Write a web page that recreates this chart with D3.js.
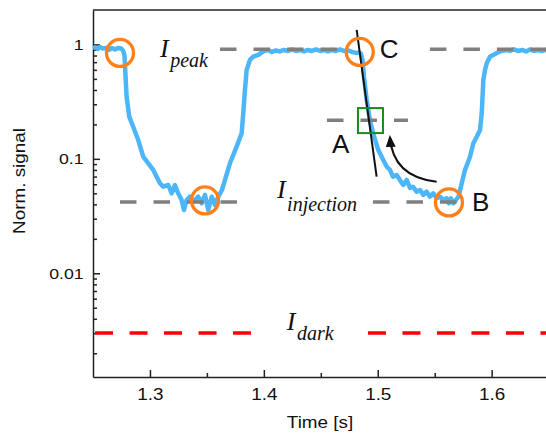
<!DOCTYPE html>
<html>
<head>
<meta charset="utf-8">
<script src="https://cdn.jsdelivr.net/npm/d3@7"></script>
<style>
  body { margin: 0; background: #fff; }
  svg { display: block; }
</style>
</head>
<body>
<div id="chart"></div>
<script>
// measured trace (time in s, normalised signal)
const times = [1.2500, 1.2517, 1.2543, 1.2561, 1.2587, 1.2614, 1.2640, 1.2666, 1.2693, 1.2719, 1.2746, 1.2763,
  1.2776, 1.2795, 1.2818, 1.2853, 1.2897, 1.2941, 1.2985, 1.3029, 1.3059, 1.3088, 1.3117, 1.3161, 1.3191, 1.3219,
  1.3248, 1.3278, 1.3299, 1.3322, 1.3351, 1.3380, 1.3424, 1.3454, 1.3483, 1.3512, 1.3542, 1.3571, 1.3600, 1.3632,
  1.3659, 1.3702, 1.3761, 1.3805, 1.3819, 1.3834, 1.3849, 1.3878, 1.3907, 1.3951, 1.3995, 1.4036, 1.4071, 1.4106,
  1.4141, 1.4176, 1.4212, 1.4247, 1.4282, 1.4317, 1.4352, 1.4387, 1.4422, 1.4457, 1.4493, 1.4528, 1.4563, 1.4598,
  1.4633, 1.4668, 1.4703, 1.4738, 1.4774, 1.4809, 1.4835, 1.4853, 1.4866, 1.4879, 1.4903, 1.4917, 1.4932, 1.4961,
  1.5004, 1.5048, 1.5081, 1.5107, 1.5133, 1.5166, 1.5195, 1.5224, 1.5254, 1.5283, 1.5309, 1.5341, 1.5371, 1.5400,
  1.5429, 1.5458, 1.5487, 1.5517, 1.5546, 1.5575, 1.5604, 1.5625, 1.5642, 1.5663, 1.5687, 1.5709, 1.5744, 1.5766,
  1.5810, 1.5839, 1.5869, 1.5898, 1.5913, 1.5927, 1.5942, 1.5957, 1.5985, 1.6029, 1.6073, 1.6132, 1.6161, 1.6196,
  1.6231, 1.6267, 1.6302, 1.6336, 1.6371, 1.6406, 1.6441, 1.6477, 1.6503];
const signal = [0.932, 0.942, 0.913, 0.951, 0.923, 0.932, 0.895, 0.932, 0.904, 0.932, 0.923, 0.886,
  0.810, 0.350, 0.234, 0.191, 0.146, 0.1045, 0.0915, 0.0800, 0.0699, 0.0612, 0.0571, 0.0591, 0.0500, 0.0591,
  0.0500, 0.0437, 0.0357, 0.0437, 0.0467, 0.0422, 0.0467, 0.0409, 0.0484, 0.0357, 0.0467, 0.0395, 0.0467, 0.0534,
  0.0654, 0.0915, 0.128, 0.167, 0.250, 0.400, 0.599, 0.732, 0.782, 0.810, 0.869, 0.895, 0.860, 0.886,
  0.869, 0.895, 0.877, 0.904, 0.877, 0.895, 0.869, 0.895, 0.877, 0.904, 0.877, 0.895, 0.869, 0.895,
  0.877, 0.904, 0.877, 0.886, 0.860, 0.843, 0.851, 0.826, 0.732, 0.523, 0.327, 0.268, 0.2145, 0.165,
  0.120, 0.0978, 0.0849, 0.0800, 0.0699, 0.0723, 0.0654, 0.0591, 0.0654, 0.0557, 0.0571, 0.0517, 0.0534, 0.0484,
  0.0517, 0.0467, 0.0500, 0.0452, 0.0467, 0.0437, 0.0452, 0.0409, 0.0452, 0.0409, 0.0437, 0.0467, 0.0654, 0.0800,
  0.1045, 0.137, 0.156, 0.179, 0.250, 0.489, 0.599, 0.685, 0.782, 0.826, 0.869, 0.895, 0.877, 0.904,
  0.877, 0.895, 0.869, 0.904, 0.877, 0.895, 0.877, 0.895, 0.886];

// reference levels: [from, to, value]
const greyLevels = [[1.3615, 1.4712, 0.91], [1.5458, 1.65, 0.91],
  [1.2737, 1.3791, 0.042], [1.4958, 1.5695, 0.042], [1.4554, 1.5265, 0.218]];
const darkLevels = [[1.2518, 1.3887, 0.003], [1.4914, 1.65, 0.003]];

// annotations
const circles = [[1.2737, 0.843], [1.3483, 0.0433], [1.4842, 0.860], [1.5625, 0.0416]];
const pointA = [1.4936, 0.216];
const tangent = [[1.4815, 1.339], [1.4990, 0.0699]];
const arrow = [[1.5517, 0.0632], [1.5133, 0.0695], [1.5107, 0.155]];
const letters = [["A", 1.4598, 0.1126], ["C", 1.5018, 0.762], ["B", 1.5828, 0.0347]];
const intensities = [["peak", 1.3088, 0.777, 10], ["injection", 1.4115, 0.0452, 13], ["dark", 1.4201, 0.00319, 10]];

const xMajor = [1.3, 1.4, 1.5, 1.6];
const xMinor = [1.35, 1.45, 1.55];
const yMajor = [0.01, 0.1, 1];
const yMinor = [0.002, 0.003, 0.004, 0.005, 0.006, 0.007, 0.008, 0.009,
  0.02, 0.03, 0.04, 0.05, 0.06, 0.07, 0.08, 0.09,
  0.2, 0.3, 0.4, 0.5, 0.6, 0.7, 0.8, 0.9];

const width = 546;
const height = 435;
const marginTop = 10;
const marginLeft = 93;
const plotBottom = 377;
const plotRight = 548.6;
const sans = "Liberation Sans, Arial, sans-serif";
const serif = "Liberation Serif, Times New Roman, serif";

const svg = d3.select("#chart")
  .append("svg")
  .attr("width", width)
  .attr("height", height)
  .attr("viewBox", [0, 0, width, height]);

const x = d3.scaleLinear([1.25, 1.65], [marginLeft, plotRight]);
const y = d3.scaleLog([0.00124, 2], [plotBottom, marginTop]);

const defs = svg.append("defs");
defs.append("marker")
  .attr("id", "head")
  .attr("viewBox", "0 0 12 10")
  .attr("refX", 10)
  .attr("refY", 5)
  .attr("markerWidth", 12)
  .attr("markerHeight", 10)
  .attr("markerUnits", "userSpaceOnUse")
  .attr("orient", "auto")
  .append("path")
  .attr("d", "M0,0L12,5L0,10Z")
  .attr("fill", "#111");

// axes
const axisColor = "#222";
svg.append("g")
  .attr("transform", `translate(0,${plotBottom})`)
  .call(d3.axisBottom(x).tickValues(xMajor).tickFormat(d3.format(".1f")).tickSize(-7).tickSizeOuter(0))
  .call(g => g.select(".domain").attr("stroke", axisColor).attr("stroke-width", 1.5))
  .call(g => g.selectAll(".tick line").attr("stroke", axisColor).attr("stroke-width", 1.5))
  .call(g => g.selectAll(".tick text")
    .attr("y", 23).attr("dy", 0)
    .attr("transform", "scale(1.18,1)")
    .attr("font-family", sans).attr("font-size", 16).attr("fill", "#111"));

svg.append("g")
  .attr("transform", `translate(0,${plotBottom})`)
  .call(d3.axisBottom(x).tickValues(xMinor).tickFormat("").tickSize(-4).tickSizeOuter(0))
  .call(g => g.select(".domain").remove())
  .call(g => g.selectAll(".tick line").attr("stroke", axisColor).attr("stroke-width", 1.5));

svg.append("g")
  .attr("transform", `translate(${marginLeft},0)`)
  .call(d3.axisLeft(y).tickValues(yMajor).tickFormat(d => String(d)).tickSize(-7).tickSizeOuter(0).tickPadding(8))
  .call(g => g.select(".domain").attr("stroke", axisColor).attr("stroke-width", 1.5))
  .call(g => g.selectAll(".tick line").attr("stroke", axisColor).attr("stroke-width", 1.5))
  .call(g => g.selectAll(".tick text")
    .attr("transform", "scale(1.18,1)")
    .attr("font-family", sans).attr("font-size", 15).attr("fill", "#111"));

svg.append("g")
  .attr("transform", `translate(${marginLeft},0)`)
  .call(d3.axisLeft(y).tickValues(yMinor).tickFormat("").tickSize(-4).tickSizeOuter(0))
  .call(g => g.select(".domain").remove())
  .call(g => g.selectAll(".tick line").attr("stroke", axisColor).attr("stroke-width", 1.5));

// top frame
svg.append("line")
  .attr("x1", x(1.25)).attr("x2", x(1.65))
  .attr("y1", y(2)).attr("y2", y(2))
  .attr("stroke", axisColor).attr("stroke-width", 1.5);

svg.append("text")
  .attr("transform", `translate(320,428) scale(1.18,1)`)
  .attr("text-anchor", "middle")
  .attr("font-family", sans).attr("font-size", 16).attr("fill", "#111")
  .text("Time [s]");

svg.append("text")
  .attr("transform", `translate(25,181) rotate(-90) scale(1.18,1)`)
  .attr("text-anchor", "middle")
  .attr("font-family", sans).attr("font-size", 16).attr("fill", "#111")
  .text("Norm. signal");

// dark level
svg.append("g").selectAll("line")
  .data(darkLevels)
  .join("line")
  .attr("x1", d => x(d[0])).attr("x2", d => x(d[1]))
  .attr("y1", d => y(d[2])).attr("y2", d => y(d[2]))
  .attr("stroke", "#ff0000").attr("stroke-width", 3.5)
  .attr("stroke-dasharray", "18,16.5");

// trace
const line = d3.line()
  .x(d => x(d[0]))
  .y(d => y(d[1]));

svg.append("path")
  .attr("d", line(times.map((t, i) => [t, signal[i]])))
  .attr("fill", "none")
  .attr("stroke", "#4cb6f8")
  .attr("stroke-width", 4.5)
  .attr("stroke-linejoin", "round");

// grey reference levels
svg.append("g").selectAll("line")
  .data(greyLevels)
  .join("line")
  .attr("x1", d => x(d[0])).attr("x2", d => x(d[1]))
  .attr("y1", d => y(d[2])).attr("y2", d => y(d[2]))
  .attr("stroke", "#7f7f7f").attr("stroke-width", 3.5)
  .attr("stroke-dasharray", "16.5,17");

// tangent at A
svg.append("line")
  .attr("x1", x(tangent[0][0])).attr("y1", y(tangent[0][1]))
  .attr("x2", x(tangent[1][0])).attr("y2", y(tangent[1][1]))
  .attr("stroke", "#111").attr("stroke-width", 2);

svg.append("rect")
  .attr("x", x(pointA[0]) - 12.5).attr("y", y(pointA[1]) - 12.5)
  .attr("width", 25).attr("height", 25)
  .attr("fill", "none").attr("stroke", "#1a8a1a").attr("stroke-width", 2);

svg.append("g").selectAll("circle")
  .data(circles)
  .join("circle")
  .attr("cx", d => x(d[0])).attr("cy", d => y(d[1]))
  .attr("r", 13.5)
  .attr("fill", "none").attr("stroke", "#ff8019").attr("stroke-width", 3.3);

const p = d3.path();
p.moveTo(x(arrow[0][0]), y(arrow[0][1]));
p.quadraticCurveTo(x(arrow[1][0]), y(arrow[1][1]), x(arrow[2][0]), y(arrow[2][1]));
svg.append("path")
  .attr("d", p.toString())
  .attr("fill", "none").attr("stroke", "#111").attr("stroke-width", 2)
  .attr("marker-end", "url(#head)");

svg.append("g").selectAll("text")
  .data(letters)
  .join("text")
  .attr("x", d => x(d[1])).attr("y", d => y(d[2]))
  .attr("font-family", sans).attr("font-size", 26).attr("fill", "#111")
  .text(d => d[0]);

const iLabels = svg.append("g").selectAll("text")
  .data(intensities)
  .join("text")
  .attr("x", d => x(d[1])).attr("y", d => y(d[2]))
  .attr("font-family", serif).attr("font-style", "italic").attr("fill", "#111");
iLabels.append("tspan").attr("font-size", 26).text("I");
iLabels.append("tspan").attr("font-size", 20).attr("dx", 1.5).attr("dy", d => d[3]).text(d => d[0]);
</script>
</body>
</html>
